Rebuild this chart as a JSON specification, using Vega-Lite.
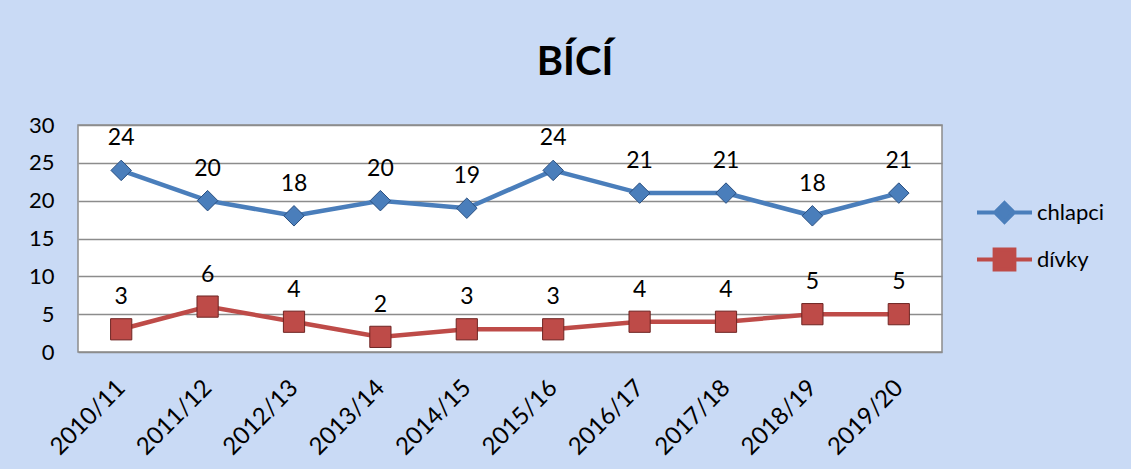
{
  "$schema": "https://vega.github.io/schema/vega-lite/v6.json",
  "autosize": "none",
  "width": 864,
  "height": 227,
  "padding": {"left": 78, "top": 125, "right": 189, "bottom": 117},
  "background": "#c9daf5",
  "title": {"text": "BÍCÍ", "fontSize": 40, "font": "Lato", "fontWeight": "bold", "color": "#000000", "anchor": "middle", "dx": 65, "offset": 31},
  "data": {"values": [
    {"rok": "2010/11", "serie": "chlapci", "pocet": 24},
    {"rok": "2011/12", "serie": "chlapci", "pocet": 20},
    {"rok": "2012/13", "serie": "chlapci", "pocet": 18},
    {"rok": "2013/14", "serie": "chlapci", "pocet": 20},
    {"rok": "2014/15", "serie": "chlapci", "pocet": 19},
    {"rok": "2015/16", "serie": "chlapci", "pocet": 24},
    {"rok": "2016/17", "serie": "chlapci", "pocet": 21},
    {"rok": "2017/18", "serie": "chlapci", "pocet": 21},
    {"rok": "2018/19", "serie": "chlapci", "pocet": 18},
    {"rok": "2019/20", "serie": "chlapci", "pocet": 21},
    {"rok": "2010/11", "serie": "dívky", "pocet": 3},
    {"rok": "2011/12", "serie": "dívky", "pocet": 6},
    {"rok": "2012/13", "serie": "dívky", "pocet": 4},
    {"rok": "2013/14", "serie": "dívky", "pocet": 2},
    {"rok": "2014/15", "serie": "dívky", "pocet": 3},
    {"rok": "2015/16", "serie": "dívky", "pocet": 3},
    {"rok": "2016/17", "serie": "dívky", "pocet": 4},
    {"rok": "2017/18", "serie": "dívky", "pocet": 4},
    {"rok": "2018/19", "serie": "dívky", "pocet": 5},
    {"rok": "2019/20", "serie": "dívky", "pocet": 5}
  ]},
  "encoding": {
    "x": {"field": "rok", "type": "ordinal", "scale": {"type": "point", "padding": 0.5},
          "axis": {"title": null, "labelAngle": -45, "labelFontSize": 24, "labelFont": "Lato", "labelColor": "#000", "domain": false, "ticks": false, "labelPadding": 32, "labelAlign": "right", "labelBaseline": "middle"}},
    "y": {"field": "pocet", "type": "quantitative", "scale": {"domain": [0, 30]},
          "axis": {"title": null, "values": [0,5,10,15,20,25,30], "labelFontSize": 22, "labelFont": "Lato", "labelColor": "#000", "domain": false, "ticks": false, "labelPadding": 24, "gridColor": "#8c8c8c", "gridWidth": 1.5, "gridOpacity": 1}},
    "color": {"field": "serie", "type": "nominal", "scale": {"domain": ["chlapci", "dívky"], "range": ["#4a7ebb", "#be4b48"]},
              "legend": {"title": null, "orient": "none", "legendX": 897, "legendY": 58, "labelFontSize": 22, "labelFont": "Lato", "labelColor": "#000", "symbolSize": 3025, "rowPadding": 0, "labelOffset": 3,
                "encode": {"symbols": {"update": {
                  "shape": {"signal": "datum.value === 'chlapci' ? 'M-1,0L-0.34,0M0,-0.34L0.34,0L0,0.34L-0.34,0ZM0.34,0L1,0' : 'M-1,0L-0.36,0M-0.36,-0.36L0.36,-0.36L0.36,0.36L-0.36,0.36ZM0.36,0L1,0'"},
                  "strokeWidth": {"value": 4},
                  "fillOpacity": {"value": 1}
                }}}}}
  },
  "layer": [
    {"mark": {"type": "line", "strokeWidth": 4.5}},
    {"transform": [{"filter": "datum.serie === 'chlapci'"}],
     "mark": {"type": "point", "filled": true, "opacity": 1, "strokeWidth": 1, "shape": "diamond", "size": 420, "stroke": "#2a4f80"}},
    {"transform": [{"filter": "datum.serie === 'dívky'"}],
     "mark": {"type": "point", "filled": true, "opacity": 1, "strokeWidth": 1, "shape": "square", "size": 450, "stroke": "#6e2523"}},
    {"mark": {"type": "text", "dy": -32, "fontSize": 23, "font": "Lato", "color": "#000"},
     "encoding": {"text": {"field": "pocet", "type": "quantitative"}, "color": {"value": "#000"}}}
  ],
  "config": {
    "view": {"fill": "#ffffff", "stroke": "#8c8c8c", "strokeWidth": 1.5}
  }
}
